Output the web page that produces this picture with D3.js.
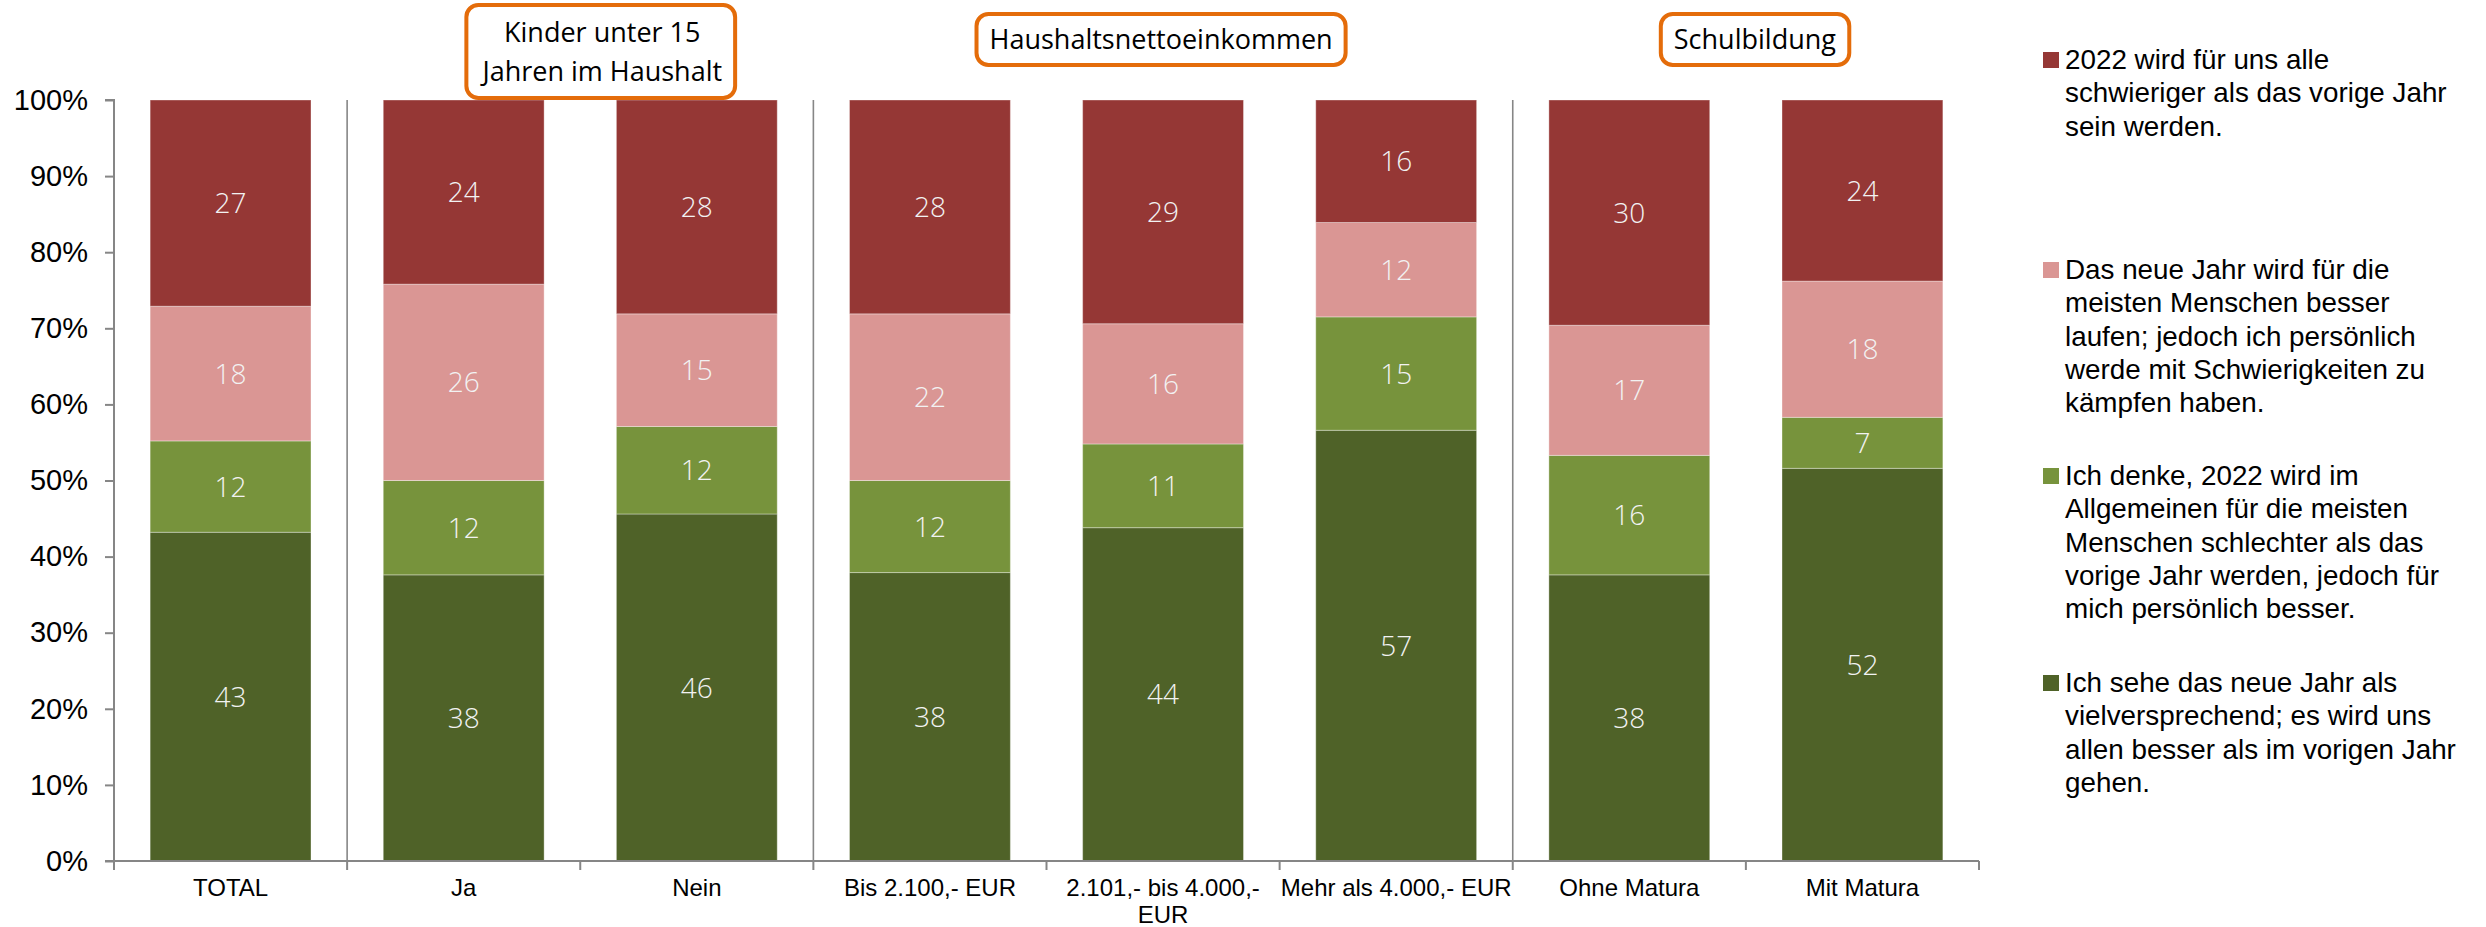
<!DOCTYPE html>
<html><head><meta charset="utf-8">
<script src="https://cdn.jsdelivr.net/npm/d3@7"></script>
<style>body{margin:0;background:#fff}svg{display:block}</style>
</head><body>
<svg id="c" width="2486" height="927"></svg>
<script>
// ---------- DATA ----------
const categories = ["TOTAL","Ja","Nein","Bis 2.100,- EUR","2.101,- bis 4.000,- EUR","Mehr als 4.000,- EUR","Ohne Matura","Mit Matura"];
// series, bottom to top
const vielversprechend    = [43.2, 37.6, 45.6, 37.9, 43.8, 56.6, 37.6, 51.6];
const allgemeinSchlechter = [12.0, 12.4, 11.5, 12.1, 11.0, 14.9, 15.7, 6.7];
const meistenBesser       = [17.7, 25.8, 14.8, 21.9, 15.8, 12.4, 17.1, 17.9];
const schwieriger         = [27.1, 24.2, 28.1, 28.1, 29.4, 16.1, 29.6, 23.8];
const seriesKeys   = ["vielversprechend","allgemeinSchlechter","meistenBesser","schwieriger"];
const seriesColors = ["#4F6228","#77933C","#DA9694","#953735"];
const yTicks = [0,10,20,30,40,50,60,70,80,90,100];
const yTickLabels = yTicks.map(d => d + "%");
const groupHeaders = [
  {lines:["Kinder unter 15","Jahren im Haushalt"], from:1, to:2},
  {lines:["Haushaltsnettoeinkommen"], from:3, to:5},
  {lines:["Schulbildung"], from:6, to:7}
];
const separatorsAfter = [0, 2, 5]; // category index after which a group line is drawn
const legendItems = [
  {key:"schwieriger", lines:["2022 wird für uns alle","schwieriger als das vorige Jahr","sein werden."]},
  {key:"meistenBesser", lines:["Das neue Jahr wird für die","meisten Menschen besser","laufen; jedoch ich persönlich","werde mit Schwierigkeiten zu","kämpfen haben."]},
  {key:"allgemeinSchlechter", lines:["Ich denke, 2022 wird im","Allgemeinen für die meisten","Menschen schlechter als das","vorige Jahr werden, jedoch für","mich persönlich besser."]},
  {key:"vielversprechend", lines:["Ich sehe das neue Jahr als","vielversprechend; es wird uns","allen besser als im vorigen Jahr","gehen."]}
];

// ---------- LAYOUT ----------
const svg = d3.select("#c");
const M = {left:114, right:1979, top:100, bottom:861};
const axisColor = "#868686";

const rows = categories.map((c,i) => ({cat:c, vielversprechend:vielversprechend[i], allgemeinSchlechter:allgemeinSchlechter[i], meistenBesser:meistenBesser[i], schwieriger:schwieriger[i]}));
const stack = d3.stack().keys(seriesKeys)(rows);
const color = d3.scaleOrdinal().domain(seriesKeys).range(seriesColors);

const x = d3.scaleBand().domain(categories).range([M.left, M.right]).paddingInner(0.31).paddingOuter(0.155);
const xb = d3.scaleBand().domain(categories).range([M.left, M.right]); // full bands for ticks
const y = d3.scaleLinear().domain([0,100]).range([M.bottom, M.top]);

// bars
const g = svg.append("g");
stack.forEach(s => {
  const layer = g.append("g");
  layer.selectAll("rect").data(s).join("rect")
    .attr("x", d => x(d.data.cat))
    .attr("width", x.bandwidth())
    .attr("y", d => y(d[1]))
    .attr("height", d => y(d[0]) - y(d[1]))
    .attr("fill", color(s.key))
    .attr("stroke", "rgba(255,255,255,0.35)")
    .attr("stroke-width", 1);
  layer.selectAll("text").data(s).join("text")
    .attr("x", d => x(d.data.cat) + x.bandwidth()/2)
    .attr("y", d => y((d[0]+d[1])/2))
    .attr("dy", "0.36em")
    .attr("text-anchor","middle")
    .attr("font-family","'Open Sans', sans-serif")
    .attr("font-weight", 300)
    .attr("font-size", 28)
    .attr("fill","#f2f2f2")
    .text(d => Math.round(d[1]-d[0]));
});

// group separators
svg.append("g").selectAll("line").data(separatorsAfter).join("line")
  .attr("x1", i => xb(categories[i]) + xb.bandwidth())
  .attr("x2", i => xb(categories[i]) + xb.bandwidth())
  .attr("y1", M.top).attr("y2", M.bottom)
  .attr("stroke", axisColor).attr("stroke-width", 1.6);

// y axis
const yAxis = d3.axisLeft(y).tickValues(yTicks).tickFormat((d,i) => yTickLabels[i]).tickSize(9).tickPadding(17);
const ya = svg.append("g").attr("transform", `translate(${M.left},0)`).call(yAxis);
ya.select(".domain").attr("stroke", axisColor).attr("stroke-width", 2).attr("d", `M-9,${M.top}H0V${M.bottom}H-9`);
ya.selectAll(".tick line").attr("stroke", axisColor).attr("stroke-width", 2);
ya.selectAll(".tick text").attr("font-family","'Liberation Sans', Arial, sans-serif").attr("font-size", 29).attr("fill","#000");

// x axis
const xAxis = d3.axisBottom(xb).tickSize(0).tickPadding(0);
const xa = svg.append("g").attr("transform", `translate(0,${M.bottom})`).call(xAxis);
xa.select(".domain").attr("stroke", axisColor).attr("stroke-width", 2).attr("d", `M${M.left},0H${M.right}`);
xa.selectAll(".tick line").remove();
// boundary ticks
svg.append("g").selectAll("line").data(d3.range(categories.length+1)).join("line")
  .attr("x1", i => M.left + i*xb.step()).attr("x2", i => M.left + i*xb.step())
  .attr("y1", M.bottom).attr("y2", M.bottom + 9)
  .attr("stroke", axisColor).attr("stroke-width", 2);
xa.selectAll(".tick text")
  .attr("font-family","'Liberation Sans', Arial, sans-serif").attr("font-size", 24).attr("fill","#000")
  .attr("y", 35).attr("dy", 0)
  .each(function(d){
    const t = d3.select(this); const words = d.split(" "); t.text(null);
    let line = [], lineNo = 0;
    let ts = t.append("tspan").attr("x",0).attr("y",35);
    words.forEach(w => {
      line.push(w); ts.text(line.join(" "));
      if (ts.node().getComputedTextLength() > 240 && line.length > 1) {
        line.pop(); ts.text(line.join(" ")); line = [w]; lineNo++;
        ts = t.append("tspan").attr("x",0).attr("y",35 + lineNo*27).text(w);
      }
    });
  });

// group header boxes
const headerOffsets = [22, -2, 9];
const headerTop = [5, 14, 14];
groupHeaders.forEach((h,k) => {
  const cx = (xb(categories[h.from]) + xb(categories[h.to]) + xb.bandwidth())/2 + headerOffsets[k];
  const hg = svg.append("g");
  const lh = 39, fs = 27;
  const boxH = h.lines.length === 1 ? 51 : 93;
  const textTop = headerTop[k] + (boxH - h.lines.length*lh)/2;
  const t = hg.append("text").attr("text-anchor","middle")
    .attr("font-family","'Open Sans', sans-serif").attr("font-size", fs).attr("fill","#000");
  h.lines.forEach((ln,i) => t.append("tspan").attr("x", cx).attr("y", textTop + i*lh + lh/2).attr("dy","0.36em").text(ln));
  const bb = t.node().getBBox();
  hg.insert("rect","text")
    .attr("x", bb.x - 13).attr("width", bb.width + 26)
    .attr("y", headerTop[k]).attr("height", boxH)
    .attr("rx", 12).attr("ry", 12)
    .attr("fill","#fff").attr("stroke","#E46C0A").attr("stroke-width", 4);
});

// legend
const legendBaselines = [69, 279, 485, 692];
const lg = svg.append("g");
legendItems.forEach((it,k) => {
  const b = legendBaselines[k];
  lg.append("rect").attr("x", 2043).attr("y", b - 17).attr("width", 16).attr("height", 16).attr("fill", color(it.key));
  const t = lg.append("text").attr("font-family","'Liberation Sans', Arial, sans-serif").attr("font-size", 27.8).attr("fill","#000");
  it.lines.forEach((ln,i) => t.append("tspan").attr("x", 2065).attr("y", b + i*33.3).text(ln));
});
</script>
</body></html>
